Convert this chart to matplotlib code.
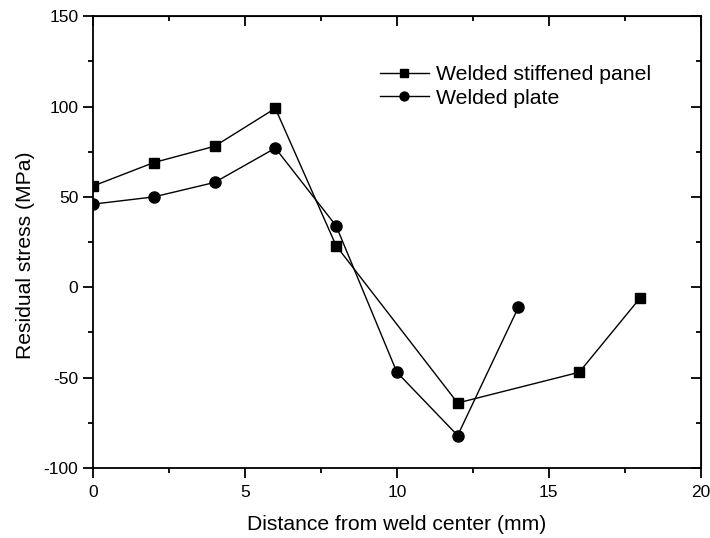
import matplotlib.pyplot as plt
from matplotlib.ticker import MultipleLocator

plt.rcParams['font.family'] = ['Liberation Sans', 'DejaVu Sans']
plt.rcParams['axes.unicode_minus'] = False

# Residual stress vs distance from weld center
panel_x = [0, 2, 4, 6, 8, 12, 16, 18]
panel_y = [56, 69, 78, 99, 23, -64, -47, -6]
plate_x = [0, 2, 4, 6, 8, 10, 12, 14]
plate_y = [46, 50, 58, 77, 34, -47, -82, -11]

fig = plt.figure(figsize=(7.1, 5.38), dpi=100)
ax = fig.add_axes([0.131, 0.130, 0.856, 0.840])

ax.plot(panel_x, panel_y, color='black', linewidth=1, marker='s', markersize=7,
        label='Welded stiffened panel')
ax.plot(plate_x, plate_y, color='black', linewidth=1, marker='o', markersize=8,
        label='Welded plate')

ax.set_xlim(0, 20)
ax.set_ylim(-100, 150)
ax.xaxis.set_major_locator(MultipleLocator(5))
ax.xaxis.set_minor_locator(MultipleLocator(2.5))
ax.yaxis.set_major_locator(MultipleLocator(50))
ax.yaxis.set_minor_locator(MultipleLocator(25))

for s in ax.spines.values():
    s.set_linewidth(1.3)
ax.tick_params(which='both', direction='out', width=1.3, labelsize=12.5)
ax.tick_params(which='major', length=7)
ax.tick_params(which='minor', length=3.5)
ax.tick_params(axis='x', pad=5)
ax.tick_params(axis='y', pad=3.5)

# inward ticks on top and right
ax2 = ax.secondary_xaxis('top')
ax2.xaxis.set_major_locator(MultipleLocator(5))
ax2.xaxis.set_minor_locator(MultipleLocator(2.5))
ax2.tick_params(which='both', direction='in', width=1.3, labeltop=False)
ax2.tick_params(which='major', length=7)
ax2.tick_params(which='minor', length=3.5)
ay2 = ax.secondary_yaxis('right')
ay2.yaxis.set_major_locator(MultipleLocator(50))
ay2.yaxis.set_minor_locator(MultipleLocator(25))
ay2.tick_params(which='both', direction='in', width=1.3, labelright=False)
ay2.tick_params(which='major', length=7)
ay2.tick_params(which='minor', length=3.5)

ax.set_xlabel('Distance from weld center (mm)', fontsize=15.2, labelpad=11)
ax.set_ylabel('Residual stress (MPa)', fontsize=15.2, labelpad=6, y=0.471)

fig.legend(loc='upper left', bbox_to_anchor=(380 / 710, 1 - 65 / 538),
           frameon=False, fontsize=15.3, handlelength=2.3, handletextpad=0.34,
           labelspacing=0.22, borderpad=0, borderaxespad=0, markerscale=0.8)

fig.savefig('out.png', dpi=100)
